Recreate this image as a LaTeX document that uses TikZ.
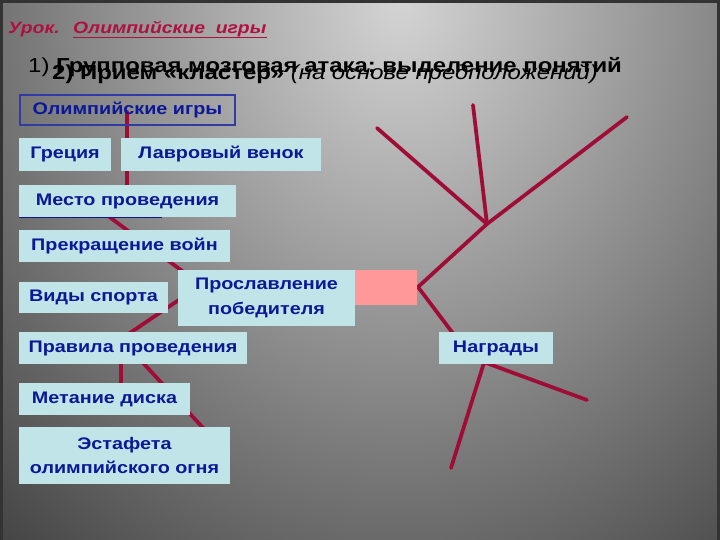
\documentclass[tikz,border=0pt]{standalone}
\usepackage{fontspec}
\setmainfont{Liberation Sans}[FakeStretch=1.18]
\usetikzlibrary{positioning}
\definecolor{bgin}{RGB}{212,212,212}
\definecolor{bgout}{RGB}{58,58,58}
\definecolor{boxfill}{RGB}{192,228,232}
\definecolor{boxtext}{RGB}{12,24,150}
\definecolor{clusterred}{RGB}{160,12,56}
\definecolor{titlered}{RGB}{176,16,64}
\definecolor{pinkfill}{RGB}{255,153,153}
\pgfdeclareradialshading{slidebg}{\pgfpoint{0bp}{0bp}}{color(0bp)=(bgin); color(25bp)=(bgout); color(50bp)=(bgout)}
\newcommand\clusterfont{\fontsize{14.3}{21}\selectfont\bfseries}
\begin{document}
\begin{tikzpicture}[x=0.03cm,y=-0.03cm]
        % Styles
        \tikzstyle{box}=[fill=boxfill,text=boxtext,font=\clusterfont,inner sep=0pt,align=center]
        \tikzstyle{branch}=[clusterred,line width=3.2pt,line cap=round]
        \tikzstyle{header}=[anchor=base west,inner sep=0pt,font=\fontsize{17.3}{19}\selectfont]
        \tikzstyle{lesson text}=[anchor=base west,inner sep=0pt,text=titlered,font=\fontsize{14}{16}\selectfont\bfseries\itshape]
        %The slide
        \useasboundingbox (0,0) rectangle (720,540);
        \begin{scope}
            \clip (0,0) rectangle (720,540);
            \shade[shading=slidebg] (400,0) ellipse (640 and 783);
        \end{scope}
        \draw[black!80,line width=5pt] (0,540) -- (0,0) -- (720,0) -- (720,540);
        %title and headers
        \node[lesson text] (lesson) at (8,34) {Урок.};
        \node[lesson text,right=13 of lesson.base east,anchor=base west] (topic) {Олимпийские\ \ игры};
        \draw[titlered,line width=1.3pt] ([yshift=-3pt]topic.base west) -- ([yshift=-3pt]topic.base east);
        \node[header] (step1) at (28,73) {1) \textbf{Групповая мозговая атака; выделение понятий}};
        \node[header] (step2) at (52,80) {\textbf{2) Прием «кластер»} \textit{(на основе предположений)}};
        %cluster lines
        \coordinate (root) at (127,112);
        \coordinate (j1) at (127,200);
        \coordinate (j0) at (96,207);
        \coordinate (jg) at (201,285);
        \coordinate (hub) at (418,287);
        \coordinate (jr) at (121,339);
        \coordinate (disc end) at (121,395);
        \coordinate (relay end) at (205,430);
        \coordinate (fan) at (487,224);
        \coordinate (f1) at (377,128);
        \coordinate (f2) at (473,105);
        \coordinate (f3) at (627,117);
        \coordinate (aw top) at (458,340);
        \coordinate (aw1) at (488,350);
        \coordinate (aw1 end) at (451,468);
        \coordinate (aw2) at (470,357);
        \coordinate (aw2 end) at (587,400);
        \draw[branch] (root) -- (j1);
        \draw[branch] (j0) -- (jg) -- (hub);
        \draw[branch] (jg) -- (jr) -- (disc end);
        \draw[branch] (jr) -- (relay end);
        \draw[branch] (f3) -- (fan) -- (hub) -- (aw top);
        \draw[branch] (f1) -- (fan);
        \draw[branch] (f2) -- (fan);
        \draw[branch] (aw1) -- (aw1 end);
        \draw[branch] (aw2) -- (aw2 end);
        %boxes
        \node[draw=boxtext!85,line width=1.2pt,text=boxtext,font=\clusterfont,inner sep=0pt,minimum width=6.45cm,minimum height=0.9cm] (olympic) at (127.5,110) {Олимпийские игры};
        \node[box,minimum width=2.76cm,minimum height=0.99cm] (greece) at (65,154.5) {Греция};
        \node[box,minimum width=6cm,minimum height=0.99cm] (wreath) at (221,154.5) {Лавровый венок};
        \node[box,minimum width=6.51cm,minimum height=0.96cm] (venue) at (127.5,201) {Место проведения};
        \draw[boxtext,line width=1.2pt] (venue.south west) -- ++(143,0);
        \node[box,minimum width=6.33cm,minimum height=0.96cm] (truce) at (124.5,246) {Прекращение войн};
        \node[box,minimum width=4.47cm,minimum height=0.93cm] (sports) at (93.5,297.5) {Виды спорта};
        \node[box,minimum width=5.31cm,minimum height=1.68cm] (glory) at (266.5,298) {Прославление\\победителя};
        \node[fill=pinkfill,inner sep=0pt,minimum width=1.86cm,minimum height=1.05cm] (pink) at (386,287.5) {};
        \node[box,minimum width=6.84cm,minimum height=0.96cm] (rules) at (133,348) {Правила проведения};
        \node[box,minimum width=5.13cm,minimum height=0.96cm] (disc) at (104.5,399) {Метание диска};
        \node[box,minimum width=6.33cm,minimum height=1.71cm] (relay) at (124.5,455.5) {Эстафета\\олимпийского огня};
        \node[box,minimum width=3.42cm,minimum height=0.96cm] (awards) at (496,348) {Награды};
\end{tikzpicture}
\end{document}
